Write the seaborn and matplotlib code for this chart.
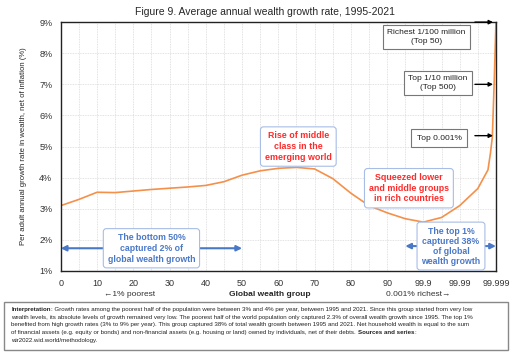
import matplotlib
matplotlib.use("Agg")
import matplotlib.pyplot as plt
import seaborn as sns
import pandas as pd
from matplotlib.patches import Rectangle

# Datos
posicion = [0, 0.5, 1.0, 1.5, 2.0, 2.5, 3.0, 3.5, 4.0, 4.5, 5.0, 5.5, 6.0, 6.5, 7.0, 7.5,
            8.0, 8.5, 9.0, 9.5, 10.0, 10.5, 11.0, 11.5, 11.78, 11.85, 11.9, 11.95, 12.0]
crecimiento = [3.1, 3.3, 3.53, 3.52, 3.57, 3.62, 3.66, 3.7, 3.75, 3.87, 4.08, 4.22, 4.3, 4.33, 4.28, 3.97,
               3.5, 3.1, 2.87, 2.68, 2.57, 2.72, 3.1, 3.65, 4.25, 4.8, 5.3, 7.0, 9.0]
etiquetas_x = ["0", "10", "20", "30", "40", "50", "60", "70", "80", "90", "99.9", "99.99", "99.999"]
etiquetas_y = ["1%", "2%", "3%", "4%", "5%", "6%", "7%", "8%", "9%"]

df = pd.DataFrame({"pos": posicion, "growth": crecimiento})

sns.set_theme(style="white")
plt.rcParams["font.family"] = ["Liberation Sans", "DejaVu Sans"]

fig = plt.figure(figsize=(5.15, 3.57), dpi=100)
ax = fig.add_axes([0.118, 0.241, 0.845, 0.697])

sns.lineplot(data=df, x="pos", y="growth", ax=ax, color="#f5904a", linewidth=1.2)

ax.set_xlim(0, 12)
ax.set_ylim(1, 9)
ax.set_xticks(range(13))
ax.set_xticklabels(etiquetas_x, fontsize=6.5, color="#333333")
ax.set_xticks([i + 0.5 for i in range(12)], minor=True)
ax.set_yticks(range(1, 10))
ax.set_yticklabels(etiquetas_y, fontsize=6.5, color="#333333")
ax.grid(True, which="both", axis="x", color="#d9d9d9", linestyle=(0, (1, 1)), linewidth=0.6)
ax.grid(True, which="major", axis="y", color="#d9d9d9", linestyle=(0, (1, 1)), linewidth=0.6)
ax.tick_params(axis="x", which="both", length=0, pad=6)
ax.tick_params(axis="y", which="both", length=0, pad=6)
for s in ax.spines.values():
    s.set_color("#222222")
    s.set_linewidth(1.0)
ax.set_xlabel("")
ax.set_ylabel("Per adult annual growth rate in wealth, net of inflation (%)", fontsize=5.6, labelpad=9)

fig.text(0.515, 0.965, "Figure 9. Average annual wealth growth rate, 1995-2021", ha="center", va="center", fontsize=7.5)
fig.text(0.252, 0.176, "←1% poorest", ha="center", va="center", fontsize=6, color="#333333")
fig.text(0.524, 0.176, "Global wealth group", ha="center", va="center", fontsize=6, weight="bold")
fig.text(0.812, 0.176, "0.001% richest→", ha="center", va="center", fontsize=6, color="#333333")

# Cajas de anotación
rojo = "#ff2a2a"
azul = "#4a78c8"
borde_azul = "#a8bde6"
caja_gris = dict(boxstyle="square,pad=0.5", fc="white", ec="#777777", lw=0.8)
caja_gris_ancha = dict(boxstyle="square,pad=0.65", fc="white", ec="#777777", lw=0.8)
caja_azul = dict(boxstyle="round,pad=0.5,rounding_size=0.35", fc="white", ec=borde_azul, lw=0.8)

ax.text(6.55, 5.0, "Rise of middle\nclass in the\nemerging world", ha="center", va="center",
        fontsize=6.4, color=rojo, weight="bold", linespacing=1.25, bbox=caja_azul)
ax.text(9.6, 3.66, "Squeezed lower\nand middle groups\nin rich countries", ha="center", va="center",
        fontsize=6.4, color=rojo, weight="bold", linespacing=1.25, bbox=caja_azul)

ax.annotate("", xy=(0, 1.73), xytext=(5.0, 1.73),
            arrowprops=dict(arrowstyle="<|-|>", color=azul, lw=1.5, mutation_scale=8, shrinkA=0, shrinkB=0))
ax.text(2.5, 1.73, "The bottom 50%\ncaptured 2% of\nglobal wealth growth", ha="center", va="center",
        fontsize=6.3, color=azul, weight="bold", linespacing=1.25, bbox=caja_azul)
ax.annotate("", xy=(9.5, 1.8), xytext=(12.0, 1.8),
            arrowprops=dict(arrowstyle="<|-|>", color=azul, lw=1.5, mutation_scale=8, shrinkA=0, shrinkB=0))
ax.text(10.76, 1.8, "The top 1%\ncaptured 38%\nof global\nwealth growth", ha="center", va="center",
        fontsize=6.3, color=azul, weight="bold", linespacing=1.15, bbox=caja_azul)

ax.text(10.08, 8.53, "Richest 1/100 million\n(Top 50)", ha="center", va="center", fontsize=6.0,
        color="#222222", linespacing=1.3, bbox=caja_gris)
ax.text(10.4, 7.04, "Top 1/10 million\n(Top 500)", ha="center", va="center", fontsize=6.0,
        color="#222222", linespacing=1.3, bbox=caja_gris)
ax.text(10.43, 5.27, "Top 0.001%", ha="center", va="center", fontsize=6.0,
        color="#222222", bbox=caja_gris_ancha)
for x0, yv in [(11.42, 9.0), (11.42, 7.0), (11.42, 5.35)]:
    ax.annotate("", xy=(11.92, yv), xytext=(x0, yv),
                arrowprops=dict(arrowstyle="-|>", color="black", lw=1.0, mutation_scale=6, shrinkA=0, shrinkB=0))

# Nota de interpretación
fig.patches.append(Rectangle((0.008, 0.02), 0.978, 0.135, transform=fig.transFigure,
                             fill=False, ec="#888888", lw=1.0))
lineas = [
    [("Interpretation", "bold"), (": Growth rates among the poorest half of the population were between 3% and 4% per year, between 1995 and 2021. Since this group started from very low", "normal")],
    [("wealth levels, its absolute levels of growth remained very low. The poorest half of the world population only captured 2.3% of overall wealth growth since 1995. The top 1%", "normal")],
    [("benefited from high growth rates (3% to 9% per year). This group captured 38% of total wealth growth between 1995 and 2021. Net household wealth is equal to the sum", "normal")],
    [("of financial assets (e.g. equity or bonds) and non-financial assets (e.g. housing or land) owned by individuals, net of their debts. ", "normal"), ("Sources and series", "bold"), (":", "normal")],
    [("wir2022.wid.world/methodology.", "normal")],
]
renderer = fig.canvas.get_renderer()
y0 = 0.133
for linea in lineas:
    x = 0.022
    for texto, peso in linea:
        t = fig.text(x, y0, texto, fontsize=4.4, weight=peso, va="center", ha="left", color="#222222")
        bb = t.get_window_extent(renderer=renderer)
        x += bb.width / fig.bbox.width
    y0 -= 0.0215

fig.savefig("out.png", dpi=100)
